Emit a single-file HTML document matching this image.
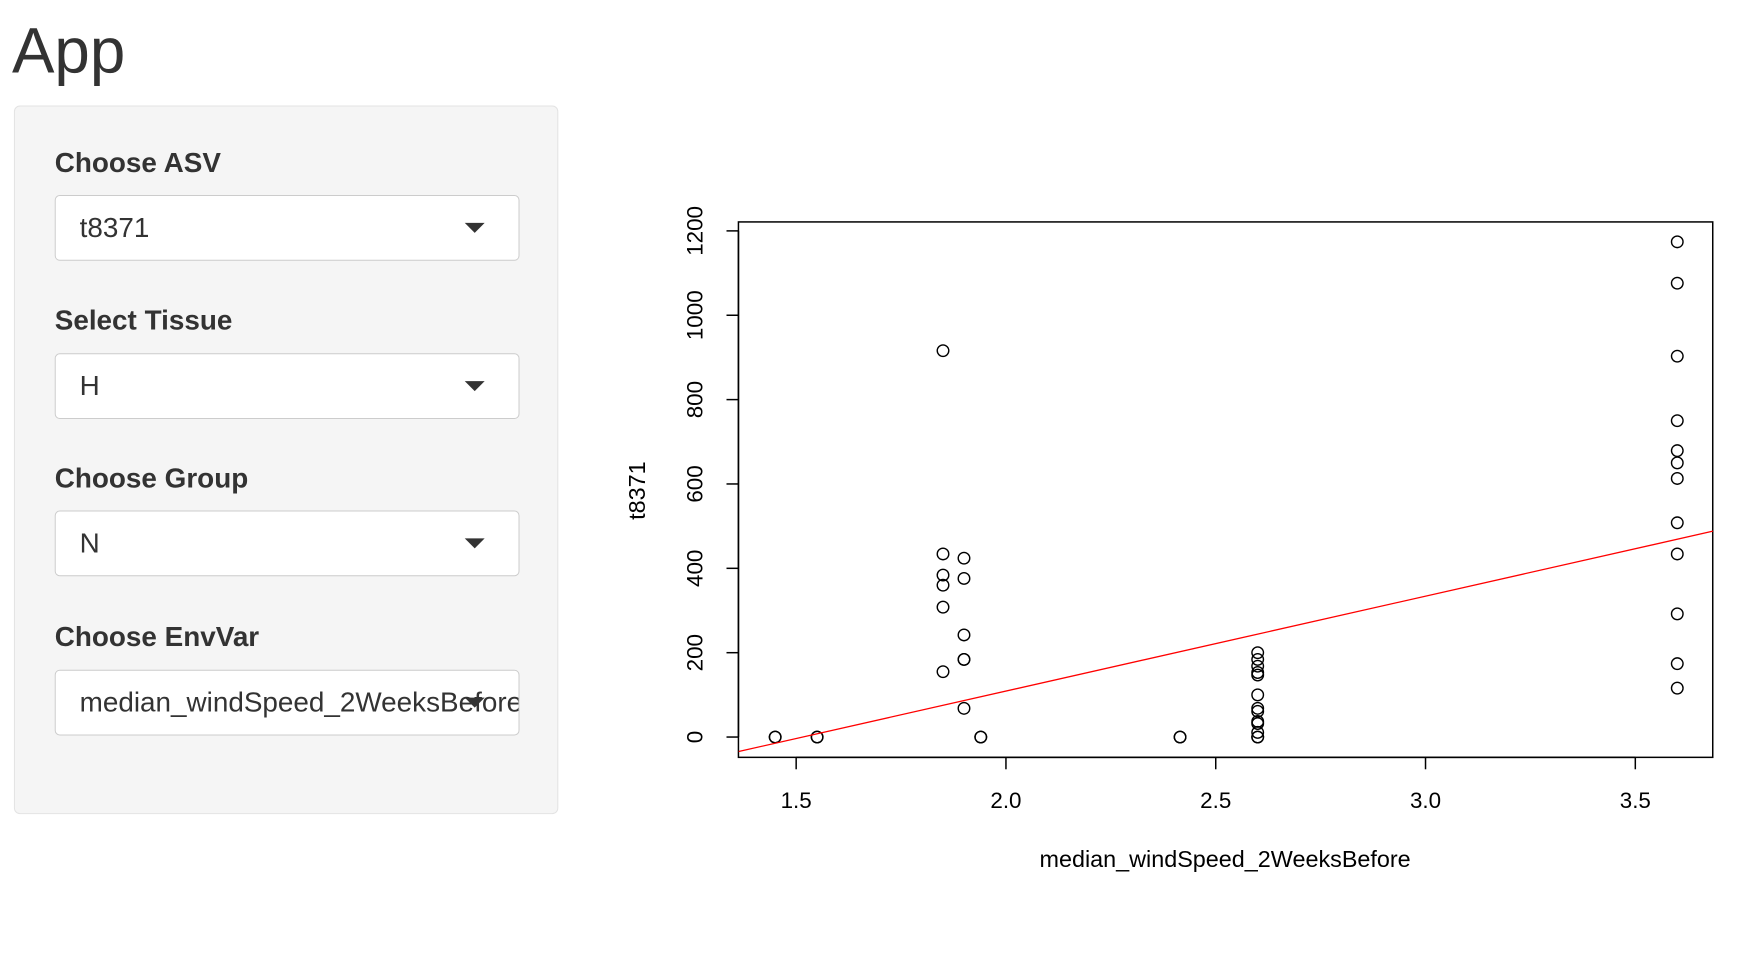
<!DOCTYPE html>
<html><head><meta charset="utf-8"><style>
body{margin:0;width:1740px;height:962px;background:#fff;font-family:"Liberation Sans",Arial,sans-serif;color:#333;position:relative;overflow:hidden}
#wrap{position:absolute;left:0;top:0;width:1740px;height:962px;transform:scale(0.9952);transform-origin:0 0}
#title{position:absolute;left:12px;top:14px;font-size:64px;margin:0;font-weight:normal;color:#333}
#sidebar{position:absolute;left:14px;top:106px;width:547px;height:712px;background:#f5f5f5;border:1px solid #e3e3e3;border-radius:6px;box-sizing:border-box}
.lbl{position:absolute;left:55px;font-weight:bold;font-size:28px;color:#333}
.sel{position:absolute;left:55px;width:467px;height:66px;background:#fff;border:1px solid #ccc;border-radius:5px;box-sizing:border-box;overflow:hidden}
.sel span{position:absolute;left:24px;top:16px;font-size:28px;color:#333;white-space:nowrap}
.caret{position:absolute;left:411px;top:27px;width:0;height:0;border-left:10px solid transparent;border-right:10px solid transparent;border-top:10px solid #333}
svg{position:absolute;left:0;top:0}
</style></head><body>
<div id="wrap">
<h2 id="title">App</h2>
<div id="sidebar"></div>
<div class="lbl" style="top:148px">Choose ASV</div>
<div class="sel" style="top:196px"><span>t8371</span><div class="caret"></div></div>
<div class="lbl" style="top:306px">Select Tissue</div>
<div class="sel" style="top:355px"><span>H</span><div class="caret"></div></div>
<div class="lbl" style="top:465px">Choose Group</div>
<div class="sel" style="top:513px"><span>N</span><div class="caret"></div></div>
<div class="lbl" style="top:624px">Choose EnvVar</div>
<div class="sel" style="top:673px"><span>median_windSpeed_2WeeksBefore</span><div class="caret"></div></div>
<svg id="plot" width="1740" height="962"></svg>
</div>
<script>
const xVals=[1.45,1.45,1.55,1.55,1.85,1.85,1.85,1.85,1.85,1.85,1.90,1.90,1.90,1.90,1.90,1.90,1.94,1.94,2.415,2.415,2.6,2.6,2.6,2.6,2.6,2.6,2.6,2.6,2.6,2.6,2.6,2.6,2.6,3.6,3.6,3.6,3.6,3.6,3.6,3.6,3.6,3.6,3.6,3.6,3.6];
const yVals=[0,0,0,0,916,434,384,360,308,155,424,376,242,184,184,68,0,0,0,0,200,184,168,153,147,100,68,61,37,32,11,0,0,1174,1076,903,750,679,650,613,508,434,292,174,116];
const xTicks=[1.5,2.0,2.5,3.0,3.5];
const xTickLabels=["1.5","2.0","2.5","3.0","3.5"];
const yTicks=[0,200,400,600,800,1000,1200];
const yTickLabels=["0","200","400","600","800","1000","1200"];
const fitLine=[-341,225];
const xDomain=[1.363,3.685];
const NS="http://www.w3.org/2000/svg";
const svg=document.getElementById('plot');
const X=v=>800+(v-1.5)*421.6;
const Y=v=>740.6-v*(508.6/1200);
function mk(t,a){const e=document.createElementNS(NS,t);for(const k in a)e.setAttribute(k,a[k]);svg.appendChild(e);return e;}
const box=mk('rect',{x:742,y:223,width:979,height:538,fill:'none',stroke:'#000','stroke-width':1.5});


mk('line',{x1:X(1.5),x2:X(3.5),y1:761,y2:761,stroke:'#000','stroke-width':1.5});
xTicks.forEach((v,i)=>{
  mk('line',{x1:X(v),x2:X(v),y1:761,y2:773,stroke:'#000','stroke-width':1.5});
  const t=mk('text',{x:X(v),y:812,'text-anchor':'middle','font-size':22.5,fill:'#000','font-family':'Liberation Sans, sans-serif'});
  t.textContent=xTickLabels[i];
  
  
});
mk('line',{x1:742,x2:742,y1:Y(0),y2:Y(1200),stroke:'#000','stroke-width':1.5});
yTicks.forEach((v,i)=>{
  mk('line',{x1:730,x2:742,y1:Y(v),y2:Y(v),stroke:'#000','stroke-width':1.5});
  const t=mk('text',{x:0,y:0,'text-anchor':'middle','font-size':22.5,fill:'#000','font-family':'Liberation Sans, sans-serif',transform:`translate(706,${Y(v)}) rotate(-90)`});
  t.textContent=yTickLabels[i];
  
  
});
const xt=mk('text',{x:1231,y:871,'text-anchor':'middle','font-size':23.5,fill:'#000','font-family':'Liberation Sans, sans-serif'});
xt.textContent='median_windSpeed_2WeeksBefore';


const yt=mk('text',{x:0,y:0,'text-anchor':'middle','font-size':23.5,fill:'#000','font-family':'Liberation Sans, sans-serif',transform:'translate(648,493) rotate(-90)'});
yt.textContent='t8371';


xVals.forEach((xv,i)=>{
  const c=mk('circle',{cx:X(xv),cy:Y(yVals[i]),r:5.8,fill:'none',stroke:'#000','stroke-width':1.4});
  
  
});
const ln=mk('line',{x1:X(xDomain[0]),y1:Y(fitLine[0]+fitLine[1]*xDomain[0]),x2:X(xDomain[1]),y2:Y(fitLine[0]+fitLine[1]*xDomain[1]),stroke:'#ff0000','stroke-width':1.3});


</script>
</body></html>
